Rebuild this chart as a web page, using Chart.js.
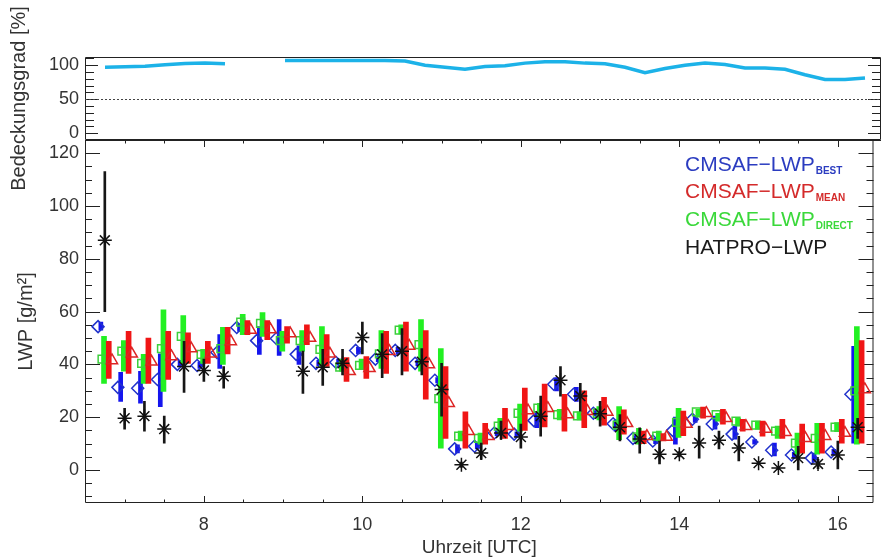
<!DOCTYPE html>
<html lang="de">
<head>
<meta charset="utf-8">
<title>LWP Vergleich</title>
<script src="https://cdn.jsdelivr.net/npm/chart.js@4.4.1/dist/chart.umd.min.js"></script>
<style>
  html, body { margin: 0; padding: 0; background: #fff; }
  #wrap { position: relative; width: 882px; height: 559px; overflow: hidden; }
  #wrap canvas { position: absolute; left: 0; top: 0; }
  .legend { position: absolute; left: 685px; font: 21px 'Liberation Sans', Arial, sans-serif; line-height: 21px; white-space: nowrap; }
  .legend span { font-size: 10px; font-weight: bold; position: relative; top: 3px; margin-left: 1px; }
</style>
</head>
<body>
<div id="wrap">
  <canvas id="coverChart" width="882" height="559"></canvas>
  <canvas id="lwpChart" width="882" height="559"></canvas>
  <div class="legend" style="top:153px;color:#2b3cc0">CMSAF−LWP<span>BEST</span></div>
  <div class="legend" style="top:180px;color:#d42a2a">CMSAF−LWP<span>MEAN</span></div>
  <div class="legend" style="top:208px;color:#3ad83a">CMSAF−LWP<span>DIRECT</span></div>
  <div class="legend" style="top:236px;color:#1a1a1a">HATPRO−LWP</div>
</div>
<script>
// Uhrzeit (UTC), alle 15 min
const times = [6.75, 7, 7.25, 7.5, 7.75, 8, 8.25, 8.5, 8.75, 9, 9.25, 9.5, 9.75, 10, 10.25, 10.5, 10.75, 11, 11.25, 11.5,
               11.75, 12, 12.25, 12.5, 12.75, 13, 13.25, 13.5, 13.75, 14, 14.25, 14.5, 14.75, 15, 15.25, 15.5, 15.75, 16, 16.25];

// Bedeckungsgrad [%]
const cover = [97, 97.5, 98.5, 100.5, 102.5, 103, 102, null, null, 107, 107, 107, 107, 107, 107, 106, 100, 97, 94, 98,
               99, 103, 105, 105, 103, 102, 97, 89, 95, 100, 103, 101, 96, 96, 94, 86, 79, 79, 81];

// CMSAF-LWP best (Raute + blauer Balken)
const bestVal = [54.3, 31.3, 31, 34.3, 40, 39.6, 44.5, 54, 49, 49.8, 43.8, 40.4, 40.8, 45.3, 42, 45.3, 40.4, 34, 8, 9,
                 14, 13.6, 18.7, 32.5, 28.7, 21.5, 17.5, 12, 11, 15, 19.2, 17.4, 13.6, 10.6, 7.5, 5.7, 4.5, 6.8, 28.7];
const bestLo = [53, 26, 25.3, 24, 39, 38.5, 38.5, 52.5, 43.8, 43.4, 40, 39.5, 39.8, 44, 41, 44, 39.5, 33, 6.5, 8,
                13, 12.5, 16, 30, 26, 20.5, 14.7, 11, 10, 9.8, 18, 15.5, 11.7, 9.8, 5.3, 4.7, 3, 5.8, 10.2];
const bestHi = [56, 37, 37.4, 44, 41.5, 41, 51.3, 55.5, 54.3, 57, 47, 41.5, 42, 46.5, 43, 46.5, 41.5, 35, 9.5, 10.5,
                15, 14.5, 22, 35, 31.3, 22.5, 19, 13, 12, 20, 20.5, 20.4, 16.6, 11.5, 10.2, 6.7, 6.4, 7.8, 46.8];

// CMSAF-LWP direct (Quadrat + gruener Balken)
const directVal = [42, 45, 40.4, 46, 50.6, 43.8, 46, 56, 55.5, 49, 49, 45.7, 39, 39.6, 44, 53, 47.5, 27, 12.8, 12,
                   16.6, 21.5, 23.4, 21, 20.5, 21.5, 17, 12.5, 12.8, 18, 22, 21, 18.5, 17, 14.7, 10.2, 12, 16.2, 30];
const directLo = [32.8, 37.4, 32.8, 29.8, 40.4, 40.4, 40, 51.3, 50.6, 45, 45, 39.2, 37.4, 38, 38.5, 51.5, 37.4, 8.3, 11, 9.8,
                  14, 14.7, 20.4, 19, 19, 19, 11.5, 9.8, 11, 12.3, 20, 18.5, 16.6, 15.5, 12, 6, 6, 14.5, 9.8];
const directHi = [50.6, 49, 43.8, 60.7, 58.5, 45.7, 54, 59, 59.6, 52.5, 52.8, 54.3, 42, 42, 52.8, 55, 57, 46, 14.7, 14,
                  19.6, 25, 25.3, 23, 22, 24, 24, 15.8, 14.7, 23.4, 23, 21.5, 19.6, 18.5, 16.6, 14, 17.7, 18, 54.3];

// CMSAF-LWP mean (Dreieck + roter Balken)
const meanVal = [41.5, 44, 41, 43, 46, 44, 48.7, 53, 53.2, 51.7, 50, 44, 37.4, 38.5, 45, 47, 40, 25.3, 14.7, 12.8,
                 16.6, 22.5, 23.4, 21, 22.3, 22, 17.7, 12.8, 12.5, 17.4, 21.5, 19.6, 16.6, 15.5, 14.3, 12, 12.8, 14, 30.5];
const meanLo = [34.7, 36.6, 32.8, 34.3, 40.4, 40.4, 44, 51.3, 49.4, 48, 47.5, 39.2, 33.6, 34.7, 36.6, 37.4, 26.8, 12, 8.3, 9.8,
                12, 15, 16.3, 14.7, 16, 17, 13.6, 10, 11, 13, 19.6, 17.4, 14.7, 12.8, 12, 6.4, 6.4, 10.2, 10.2];
const meanHi = [48.7, 52.5, 50, 52.5, 52, 48.7, 54, 56.6, 56.6, 54.3, 55, 51.3, 42.6, 43, 52.5, 56, 52.8, 39.2, 22, 17.7,
                23.4, 31, 32.5, 28.7, 30, 27.5, 22.8, 14.7, 13.8, 22.3, 23.8, 23, 19.2, 18.5, 19.2, 17.4, 17.7, 19.2, 49];

// HATPRO-LWP (Stern + schwarze Linie)
const hatproVal = [87, 19.6, 20.4, 15.5, 39.2, 37.7, 35.5, null, null, null, 37.4, 38.9, 40.4, 50.2, 43.8, 45, 41, 30.5, 2, 6.4,
                   14, 12.5, 20.4, 34, 28, 21.3, 16.2, 11.7, 6, 6, 10.2, 11.3, 8.3, 2.6, 0.8, 4.5, 2.3, 5.7, 16.2];
const hatproLo = [60, 15.5, 14.7, 10.2, 29.4, 33.6, 31, null, null, null, 29, 32, 36, 44, 35, 36, 36, 20.4, 1, 4,
                  11.7, 8.3, 12.8, 28, 22.3, 16.6, 11, 6.4, 2.3, 5, 4.5, 8, 3.4, 2, 0.3, 0, 0.5, 0.4, 12];
const hatproHi = [113, 23.4, 26, 20.4, 48.7, 42, 39.2, null, null, null, 45, 45.7, 45.7, 56, 51.7, 53.6, 46, 40.4, 3, 10.2,
                  18.5, 17.4, 28, 39.2, 32.8, 26, 21, 16, 11, 7, 16.6, 14.7, 12.8, 3.2, 1.3, 9, 4, 11, 19.6];

const xTicks = [8, 10, 12, 14, 16];
const lwpTicks = [0, 20, 40, 60, 80, 100, 120];
const coverTicks = [0, 50, 100];

// horizontale Versaetze der Symbole innerhalb einer Gruppe (Stunden)
const OFF = { diamond: -0.085, blueBar: -0.05, square: -0.035, greenBar: -0.01, redBar: 0.05, triangle: 0.09, star: 0 };

const FONT = "'Liberation Sans', Arial, sans-serif";
Chart.defaults.font.family = FONT;
Chart.defaults.color = '#333';

const pts = (vals, dx) => times.map((t, i) => ({ x: t + dx, y: vals[i] })).filter(p => p.y !== null);
const bars = (lo, hi, dx) => times.map((t, i) => ({ x: t + dx, y: [lo[i], hi[i]] })).filter(p => p.y[0] !== null);
// fuer die Linie bleiben Luecken (null) erhalten
const line = vals => times.map((t, i) => ({ x: t, y: vals[i] }));

const isMajor = (v, step) => {
    const r = ((v % step) + step) % step;
    return r < 1e-6 || step - r < 1e-6;
};

// Rahmen mit nach innen zeigenden Ticks (IDL-Stil)
const frameTicks = {
    id: 'frameTicks',
    beforeDatasetsDraw(chart, args, o) {
        const { ctx, chartArea: a } = chart;
        const xs = chart.scales.x, ys = chart.scales.y;
        ctx.save();
        ctx.strokeStyle = '#222';
        ctx.lineWidth = 1;
        ctx.beginPath();
        ctx.rect(a.left + 0.5, a.top + 0.5, a.width - 1, a.height - 1);
        for (let v = o.yFirst; v <= ys.max + 1e-6; v += o.yStep) {
            const py = Math.round(ys.getPixelForValue(v)) + 0.5;
            const len = isMajor(v, o.yMajor) ? o.yLen : o.yLenMinor;
            ctx.moveTo(a.left, py); ctx.lineTo(a.left + len, py);
            ctx.moveTo(a.right, py); ctx.lineTo(a.right - len, py);
        }
        if (o.xLen) {
            for (let v = o.xFirst; v <= xs.max + 1e-6; v += o.xStep) {
                const px = Math.round(xs.getPixelForValue(v)) + 0.5;
                const len = isMajor(v, o.xMajor) ? o.xLen : o.xLen / 2;
                ctx.moveTo(px, a.bottom); ctx.lineTo(px, a.bottom - len);
                ctx.moveTo(px, a.top); ctx.lineTo(px, a.top + len);
            }
        }
        ctx.stroke();
        if (o.refLine != null) {
            const py = Math.round(ys.getPixelForValue(o.refLine)) + 0.5;
            ctx.setLineDash([2, 2]);
            ctx.strokeStyle = '#444';
            ctx.beginPath();
            ctx.moveTo(a.left, py); ctx.lineTo(a.right, py);
            ctx.stroke();
        }
        ctx.restore();
    }
};

const baseOptions = {
    responsive: false,
    animation: false,
    events: [],
    plugins: { legend: { display: false }, tooltip: { enabled: false } }
};

// oberes Panel: Bedeckungsgrad
new Chart(document.getElementById('coverChart'), {
    type: 'line',
    data: {
        datasets: [{
            data: line(cover),
            borderColor: '#1cb2e8',
            borderWidth: 3.5,
            pointRadius: 0,
            spanGaps: false,
            tension: 0
        }]
    },
    options: {
        ...baseOptions,
        layout: { padding: { top: 57, right: 1, bottom: 419, left: 0 } },
        scales: {
            x: { type: 'linear', min: 6.5, max: 16.45, display: false },
            y: {
                min: -10, max: 112,
                grid: { display: false, drawTicks: false },
                border: { display: false },
                afterBuildTicks: s => { s.ticks = coverTicks.map(v => ({ value: v })); },
                afterFit: s => { s.width = 85; },
                ticks: { padding: 6, autoSkip: false, font: { size: 18 }, color: '#333' },
                title: { display: true, text: 'Bedeckungsgrad [%]', font: { size: 20 }, color: '#333', padding: { top: 7, bottom: 0 } }
            }
        },
        plugins: { ...baseOptions.plugins,
            frameTicks: { yFirst: -10, yStep: 10, yMajor: 50, yLen: 13, yLenMinor: 9, xLen: 0, refLine: 50 } }
    },
    plugins: [frameTicks]
});

// unteres Panel: LWP
new Chart(document.getElementById('lwpChart'), {
    type: 'scatter',
    data: {
        datasets: [
            { type: 'bar', data: bars(bestLo, bestHi, OFF.blueBar), backgroundColor: '#1515ee', barThickness: 4, grouped: false, order: 8 },
            { data: pts(bestVal, OFF.diamond), pointStyle: 'rectRot', pointRadius: 6, borderWidth: 1.5,
              borderColor: '#2233cc', backgroundColor: 'rgba(0,0,0,0)', order: 7 },
            { type: 'bar', data: bars(directLo, directHi, OFF.greenBar), backgroundColor: '#22f022', barThickness: 5, grouped: false, order: 6 },
            { data: pts(directVal, OFF.square), pointStyle: 'rect', pointRadius: 5.5, borderWidth: 1.5,
              borderColor: '#3ccf3c', backgroundColor: 'rgba(0,0,0,0)', order: 5 },
            { type: 'bar', data: bars(meanLo, meanHi, OFF.redBar), backgroundColor: '#f01515', barThickness: 5, grouped: false, order: 4 },
            { data: pts(meanVal, OFF.triangle), pointStyle: 'triangle', pointRadius: 6.5, borderWidth: 1.5,
              borderColor: '#dd2525', backgroundColor: 'rgba(0,0,0,0)', order: 3 },
            { type: 'bar', data: bars(hatproLo, hatproHi, OFF.star), backgroundColor: '#161616', barThickness: 2, grouped: false, order: 2 },
            { data: pts(hatproVal, OFF.star), pointStyle: 'star', pointRadius: 7, borderWidth: 1.5,
              borderColor: '#111', backgroundColor: '#111', order: 1 }
        ]
    },
    options: {
        ...baseOptions,
        layout: { padding: { top: 140, right: 1, bottom: 0, left: 0 } },
        scales: {
            x: {
                type: 'linear', min: 6.5, max: 16.45, offset: false,
                grid: { display: false, drawTicks: false },
                border: { display: false },
                afterBuildTicks: s => { s.ticks = xTicks.map(v => ({ value: v })); },
                afterFit: s => { s.height = 56; },
                ticks: { padding: 11, maxRotation: 0, autoSkip: false, font: { size: 18 }, color: '#333' },
                title: { display: true, text: 'Uhrzeit [UTC]', font: { size: 19 }, color: '#333', padding: { top: 0, bottom: 0 } }
            },
            y: {
                min: -12.5, max: 125,
                grid: { display: false, drawTicks: false },
                border: { display: false },
                afterBuildTicks: s => { s.ticks = lwpTicks.map(v => ({ value: v })); },
                afterFit: s => { s.width = 85; },
                ticks: { padding: 6, autoSkip: false, font: { size: 18 }, color: '#333' },
                title: { display: true, text: 'LWP [g/m²]', font: { size: 20 }, color: '#333', padding: { top: 14, bottom: 0 } }
            }
        },
        plugins: { ...baseOptions.plugins,
            frameTicks: { yFirst: -10, yStep: 5, yMajor: 20, yLen: 15, yLenMinor: 7,
                          xFirst: 7, xStep: 0.5, xMajor: 2, xLen: 7 } }
    },
    plugins: [frameTicks]
});
</script>
</body>
</html>
